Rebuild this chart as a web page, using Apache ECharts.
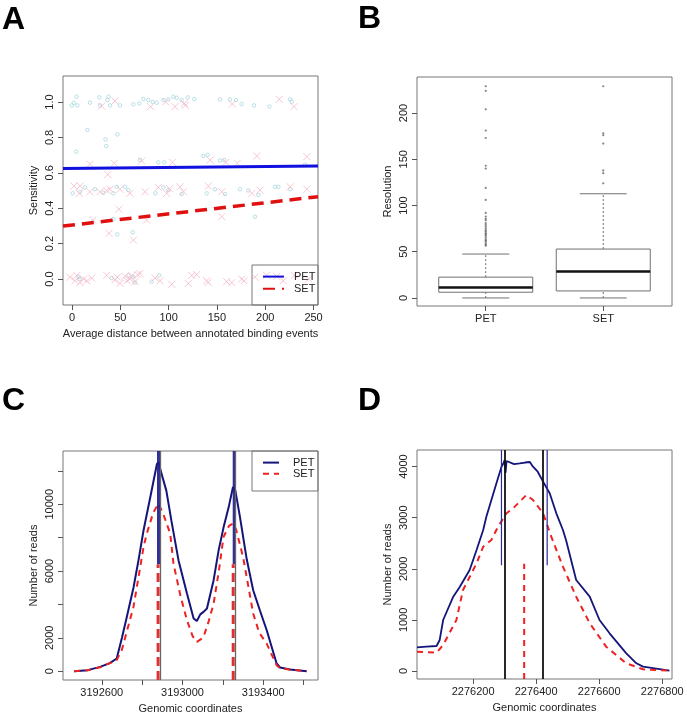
<!DOCTYPE html>
<html><head><meta charset="utf-8">
<script src="https://cdn.jsdelivr.net/npm/echarts@6/dist/echarts.min.js"></script>
<style>html,body{margin:0;padding:0;background:#fff}#c{width:687px;height:717px}</style>
</head><body><div id="c"></div>
<script>
// ---------- Panel A data ----------
const aPetPoints = [
 [-0.3,0.981],[1.9,0.996],[4.6,1.03],[5.5,0.981],[18.6,0.996],[28.3,1.026],[29.0,0.981],[36.6,1.011],[37.7,1.03],[39.3,0.981],[49.7,0.981],[63.5,0.987],[69.7,0.992],[73.9,1.017],[79.0,1.011],[83.5,1.0],[87.7,0.996],[94.6,1.011],[99.8,1.015],[104.9,1.03],[108.4,1.024],[113.5,1.011],[119.7,1.026],[126.6,1.017],[153.2,1.015],[163.5,1.015],[169.8,1.011],[175.6,0.989],[188.4,0.981],[204.3,0.974],[225.7,1.015],[227.4,1.002],
 [16.0,0.842],[34.7,0.789],[35.4,0.751],[47.1,0.817],[4.4,0.719],
 [70.4,0.672],[89.4,0.659],[95.6,0.659],[135.9,0.695],[140.5,0.701],[157.7,0.672],[241.2,0.646],[153.2,0.67],
 [0.7,0.484],[8.3,0.493],[13.5,0.518],[23.8,0.507],[32.5,0.488],[42.8,0.484],[46.3,0.521],[54.9,0.521],[58.3,0.502],[86.3,0.484],[94.6,0.518],[99.8,0.502],[113.5,0.48],[139.4,0.484],[148.0,0.507],[158.4,0.48],[173.9,0.507],[182.5,0.5],[192.8,0.475],[210.1,0.521],[213.6,0.521],[225.7,0.507],
 [42.8,0.339],[46.9,0.252],[62.8,0.264],[189.4,0.352],
 [6.5,0.013],[8.0,0.0],[41.1,0.005],[58.3,0.02],[65.2,-0.02],[82.5,-0.015],[90.4,0.02],[63.5,0.01]
];
const aSetPoints = [
 [30.7,0.977],[44.5,1.006],[81.4,0.974],[97.0,1.0],[106.6,0.974],[116.3,0.992],[117.3,0.981],[165.9,0.989],[214.5,1.015],[229.7,0.974],
 [18.6,0.648],[37.0,0.59],[43.8,0.654],[72.1,0.667],[103.9,0.659],[142.9,0.672],[159.4,0.659],[171.1,0.654],[191.2,0.695],[243.0,0.691],
 [2.1,0.525],[7.6,0.484],[8.3,0.525],[18.6,0.493],[29.0,0.493],[36.0,0.5],[39.3,0.507],[49.7,0.507],[60.0,0.484],[75.6,0.493],[89.4,0.518],[98.0,0.484],[101.0,0.51],[111.8,0.521],[115.3,0.493],[141.2,0.525],[155.0,0.493],[186.1,0.484],[194.7,0.502],[225.8,0.521],[243.1,0.507],
 [48.6,0.394],[38.3,0.258],[63.5,0.22],[155.0,0.352],[21.4,0.333],[77.3,0.333],
 [-2.1,0.01],[3.1,-0.01],[5.0,0.02],[8.3,-0.02],[12.0,0.0],[15.2,-0.01],[20.4,0.005],[36.0,0.02],[44.5,-0.005],[47.0,0.01],[49.7,-0.025],[54.9,0.015],[57.0,-0.01],[60.0,0.0],[62.0,0.02],[65.2,-0.015],[68.0,0.025],[70.4,0.03],[85.9,0.005],[91.1,-0.01],[103.2,-0.03],[120.4,-0.025],[123.9,0.02],[129.0,0.025],[139.4,-0.01],[141.0,-0.02],[160.1,-0.015],[165.3,-0.02],[175.6,0.0],[178.0,-0.01],[189.4,0.01],[201.5,0.02],[211.8,0.015],[218.7,-0.01],[230.0,0.02],[245.0,0.0]
];
const aFitX = [-9.3, 254.6];
const aPetFitY = [0.625, 0.638];
const aSetFitY = [0.299, 0.465];
const aXTicks = [0, 50, 100, 150, 200, 250];
const aYTicks = [0, 0.2, 0.4, 0.6, 0.8, 1.0];

// ---------- Panel B data ----------
const bCategories = ['PET', 'SET'];
const petBox = [0, 6.2, 11.2, 22.5, 47.5];      // min, Q1, median, Q3, upper whisker
const setBox = [0, 7.6, 28.6, 52.9, 112.7];
const petOutliers = [229, 224, 204, 181, 173, 143, 140, 119, 106, 92, 88, 85.5, 84, 81, 79, 77, 75, 73, 72, 70, 69.5, 68, 67, 65, 63, 62, 61, 59, 57.5, 56.5];
const setOutliers = [229, 178, 176, 167, 138, 135, 124];
const bYTicks = [0, 50, 100, 150, 200];

// ---------- Panel C data ----------
const cPet = [[3192463,0],[3192530,60],[3192592,257],[3192640,480],[3192674,760],[3192700,2000],[3192724,3250],[3192757,5000],[3192782,6650],[3192807,8440],[3192840,10400],[3192873,12400],[3192881,12530],[3192890,12100],[3192920,10800],[3192945,9000],[3192980,6650],[3193022,4650],[3193055,3150],[3193071,3000],[3193088,3400],[3193104,3550],[3193121,3750],[3193154,5450],[3193179,7250],[3193203,8600],[3193230,9900],[3193250,11040],[3193262,10800],[3193270,10740],[3193285,9200],[3193318,6700],[3193350,4850],[3193383,3650],[3193417,2450],[3193466,460],[3193483,220],[3193533,100],[3193615,0]];
const cSet = [[3192463,0],[3192530,50],[3192592,230],[3192674,660],[3192700,1300],[3192757,3850],[3192790,6200],[3192807,7440],[3192823,8240],[3192855,9500],[3192881,10040],[3192905,9400],[3192939,8240],[3192955,6450],[3192990,4500],[3193022,3050],[3193050,2100],[3193071,1750],[3193090,1900],[3193104,2050],[3193130,3000],[3193154,4050],[3193180,6000],[3193203,8040],[3193230,8700],[3193250,8840],[3193265,8500],[3193300,6840],[3193350,3450],[3193380,2300],[3193417,1650],[3193445,900],[3193466,360],[3193483,180],[3193533,90],[3193615,0]];
const cPetSites = [3192881, 3193256];
const cSetSites = [3192879, 3193251];
const cTrueSites = [3192890, 3193263];
const cSiteCut = 6400;
const cXTicks = [3192600, 3192800, 3193000, 3193200, 3193400, 3193600];
const cXLabels = [3192600, 3193000, 3193400];
const cYTicks = [0, 2000, 4000, 6000, 8000, 10000, 12000];
const cYLabels = [0, 2000, 6000, 10000];

// ---------- Panel D data ----------
const dPet = [[2276022,463],[2276052,476],[2276084,489],[2276094,607],[2276105,998],[2276137,1454],[2276158,1650],[2276189,1977],[2276211,2368],[2276232,2759],[2276242,3020],[2276274,3673],[2276290,3998],[2276296,4060],[2276300,4129],[2276303,3880],[2276306,4110],[2276311,4090],[2276330,4050],[2276348,4065],[2276365,4080],[2276380,4090],[2276390,3998],[2276405,3900],[2276422,3705],[2276443,3478],[2276464,3086],[2276485,2760],[2276495,2560],[2276527,1781],[2276570,1454],[2276601,998],[2276633,737],[2276686,346],[2276718,150],[2276739,85],[2276823,8]];
const dSet = [[2276022,378],[2276084,359],[2276105,509],[2276147,998],[2276168,1585],[2276211,2107],[2276232,2433],[2276258,2564],[2276279,2824],[2276306,3086],[2276327,3184],[2276369,3444],[2276390,3346],[2276422,3086],[2276448,2628],[2276485,2041],[2276527,1454],[2276570,933],[2276622,476],[2276686,150],[2276739,33],[2276823,8]];
const dPetSites = [2276290, 2276435];
const dSetSites = [2276362];
const dTrueSites = [2276301, 2276422];
const dPetCut = 2070;
const dSetCut = 2100;
const dXTicks = [2276200, 2276400, 2276600, 2276800];
const dYTicks = [0, 1000, 2000, 3000, 4000];

// ---------- ranges ----------
const aX = [-9.3, 254.6], aY = [-0.147, 1.147];
const bX = [0.415, 2.585], bY = [-8.7, 239];
const cX = [3192408, 3193671], cY = [-530, 13190];
const dX = [2276022, 2276831], dY = [-157, 4325];

const FONT = "'Liberation Sans', Arial, Helvetica, sans-serif";
const TXT = '#222', BOX = '#777', TICK = '#555';

function xAx(gi, range, ticks, labels, name, fmt) {
  return {
    type: 'value', gridIndex: gi, min: range[0], max: range[1], position: 'bottom',
    axisLine: {show: false, onZero: false}, splitLine: {show: false},
    axisTick: {show: true, customValues: ticks, length: 5, lineStyle: {color: TICK, width: 1}},
    axisLabel: {customValues: labels, margin: 7, fontSize: 11, color: TXT, fontFamily: FONT,
      formatter: fmt || (v => String(v))},
    name: name, nameLocation: 'middle', nameGap: 23,
    nameTextStyle: {fontSize: 11, color: TXT, fontFamily: FONT}
  };
}
function yAx(gi, range, ticks, labels, name, fmt) {
  return {
    type: 'value', gridIndex: gi, min: range[0], max: range[1], position: 'left',
    axisLine: {show: false, onZero: false}, splitLine: {show: false},
    axisTick: {show: true, customValues: ticks, length: 5, lineStyle: {color: TICK, width: 1}},
    axisLabel: {customValues: labels, margin: 8, rotate: 90, fontSize: 11, color: TXT, fontFamily: FONT,
      formatter: fmt || (v => String(v))},
    name: name, nameLocation: 'middle', nameGap: 24,
    nameTextStyle: {fontSize: 11, color: TXT, fontFamily: FONT}
  };
}

const gridStyle = {show: true, borderColor: BOX, borderWidth: 1, backgroundColor: 'transparent'};

const series = [];
// Panel A
series.push({type: 'scatter', name: 'PET pts', xAxisIndex: 0, yAxisIndex: 0, symbol: 'circle', symbolSize: 3.5,
  itemStyle: {color: 'transparent', borderColor: '#9fd2de', borderWidth: 0.9}, data: aPetPoints, silent: true});
series.push({type: 'scatter', name: 'SET pts', xAxisIndex: 0, yAxisIndex: 0, symbol: 'path://M0,0L10,10M10,0L0,10', symbolSize: 7,
  itemStyle: {color: 'transparent', borderColor: '#f5b8c7', borderWidth: 1}, data: aSetPoints, silent: true});
series.push({type: 'line', name: 'PET', xAxisIndex: 0, yAxisIndex: 0, symbol: 'none',
  lineStyle: {color: '#1010e0', width: 3}, itemStyle: {color: '#1010e0'},
  data: aFitX.map((x, i) => [x, aPetFitY[i]])});
series.push({type: 'line', name: 'SET', xAxisIndex: 0, yAxisIndex: 0, symbol: 'none',
  lineStyle: {color: '#e01010', width: 3.5, type: [12, 7]}, itemStyle: {color: '#e01010'},
  data: aFitX.map((x, i) => [x, aSetFitY[i]])});

// Panel B
const boxRows = [[1].concat(petBox), [2].concat(setBox)];
series.push({type: 'custom', name: 'box', xAxisIndex: 1, yAxisIndex: 1, silent: true,
  data: boxRows,
  renderItem: function (params, api) {
    const x = api.value(0), mn = api.value(1), q1 = api.value(2), md = api.value(3), q3 = api.value(4), mx = api.value(5);
    const p = (xx, yy) => api.coord([xx, yy]);
    const grey = '#707070';
    const seg = (a, b, style) => ({type: 'line', shape: {x1: a[0], y1: a[1], x2: b[0], y2: b[1]}, style: style});
    const tl = p(x - 0.4, q3), br = p(x + 0.4, q1);
    return {type: 'group', children: [
      seg(p(x, mn), p(x, q1), {stroke: grey, lineWidth: 1, lineDash: [2, 2]}),
      seg(p(x, q3), p(x, mx), {stroke: grey, lineWidth: 1, lineDash: [2, 2]}),
      seg(p(x - 0.2, mn), p(x + 0.2, mn), {stroke: grey, lineWidth: 1}),
      seg(p(x - 0.2, mx), p(x + 0.2, mx), {stroke: grey, lineWidth: 1}),
      {type: 'rect', shape: {x: tl[0], y: tl[1], width: br[0] - tl[0], height: br[1] - tl[1]},
        style: {fill: 'transparent', stroke: grey, lineWidth: 1}},
      seg(p(x - 0.4, md), p(x + 0.4, md), {stroke: '#111', lineWidth: 2.5})
    ]};
  }
});
series.push({type: 'scatter', name: 'out1', xAxisIndex: 1, yAxisIndex: 1, symbol: 'circle', symbolSize: 2.2,
  itemStyle: {color: '#666'}, data: petOutliers.map(v => [1, v]), silent: true});
series.push({type: 'scatter', name: 'out2', xAxisIndex: 1, yAxisIndex: 1, symbol: 'circle', symbolSize: 2.2,
  itemStyle: {color: '#666'}, data: setOutliers.map(v => [2, v]), silent: true});

// Panel C
series.push({type: 'line', name: 'PET·C', xAxisIndex: 2, yAxisIndex: 2, symbol: 'none',
  lineStyle: {color: '#14147a', width: 2}, itemStyle: {color: '#14147a'}, data: cPet,
  markLine: {silent: true, symbol: 'none', label: {show: false},
    lineStyle: {color: '#666', width: 1.3, type: 'solid'}, data: cTrueSites.map(v => ({xAxis: v}))}});
series.push({type: 'line', name: 'SET·C', xAxisIndex: 2, yAxisIndex: 2, symbol: 'none',
  lineStyle: {color: '#ee2222', width: 2, type: [6, 5]}, itemStyle: {color: '#ee2222'}, data: cSet});
cPetSites.forEach(s => series.push({type: 'line', name: 'cpsite', xAxisIndex: 2, yAxisIndex: 2, symbol: 'none', silent: true,
  lineStyle: {color: '#1a1a8a', width: 3, opacity: 0.9}, data: [[s, cY[1]], [s, cSiteCut]]}));
cSetSites.forEach(s => series.push({type: 'line', name: 'cssite', xAxisIndex: 2, yAxisIndex: 2, symbol: 'none', silent: true,
  lineStyle: {color: '#e03030', width: 3, type: [9, 5]}, data: [[s, cY[0]], [s, cSiteCut]]}));

// Panel D
series.push({type: 'line', name: 'PET·D', xAxisIndex: 3, yAxisIndex: 3, symbol: 'none',
  lineStyle: {color: '#14147a', width: 1.8}, data: dPet,
  markLine: {silent: true, symbol: 'none', label: {show: false},
    lineStyle: {color: '#111', width: 1.8, type: 'solid'}, data: dTrueSites.map(v => ({xAxis: v}))}});
series.push({type: 'line', name: 'SET·D', xAxisIndex: 3, yAxisIndex: 3, symbol: 'none',
  lineStyle: {color: '#ee2222', width: 2, type: [6, 5]}, data: dSet});
dPetSites.forEach(s => series.push({type: 'line', name: 'dpsite', xAxisIndex: 3, yAxisIndex: 3, symbol: 'none', silent: true,
  lineStyle: {color: '#2a2a9a', width: 1.2}, data: [[s, dY[1]], [s, dPetCut]]}));
dSetSites.forEach(s => series.push({type: 'line', name: 'dssite', xAxisIndex: 3, yAxisIndex: 3, symbol: 'none', silent: true,
  lineStyle: {color: '#ee2222', width: 2, type: [6, 5]}, data: [[s, dY[0]], [s, dSetCut]]}));

const letter = (t, x, y) => ({type: 'text', x: x, y: y, style: {text: t, font: 'bold 32px ' + FONT, fill: '#000', verticalAlign: 'middle'}});
const hiddenSymbol = {color: 'rgba(0,0,0,0)', borderColor: 'rgba(0,0,0,0)', borderWidth: 0, opacity: 0};

const option = {
  animation: false,
  backgroundColor: '#fff',
  grid: [
    Object.assign({left: 63, top: 76, width: 255, height: 229}, gridStyle),
    Object.assign({left: 417, top: 77, width: 255, height: 229}, gridStyle),
    Object.assign({left: 63, top: 451, width: 255, height: 229}, gridStyle),
    Object.assign({left: 417, top: 450, width: 255, height: 229}, gridStyle)
  ],
  xAxis: [
    xAx(0, aX, aXTicks, aXTicks, 'Average distance between annotated binding events'),
    xAx(1, bX, [1, 2], [1, 2], '', v => bCategories[Math.round(v) - 1]),
    xAx(2, cX, cXTicks, cXLabels, 'Genomic coordinates'),
    xAx(3, dX, dXTicks, dXTicks, 'Genomic coordinates')
  ],
  yAxis: [
    yAx(0, aY, aYTicks, aYTicks, 'Sensitivity', v => v.toFixed(1)),
    yAx(1, bY, bYTicks, bYTicks, 'Resolution'),
    yAx(2, cY, cYTicks, cYLabels, 'Number of reads'),
    yAx(3, dY, dYTicks, dYTicks, 'Number of reads')
  ],
  legend: [
    {data: ['PET', 'SET'], orient: 'vertical', left: 262, top: 271, padding: 0, itemWidth: 21, itemHeight: 14, itemGap: 1,
      itemStyle: hiddenSymbol,
      textStyle: {fontSize: 11, color: TXT, fontFamily: FONT, padding: [0, 0, 0, 5]}, selectedMode: false},
    {data: ['PET·C', 'SET·C'], orient: 'vertical', left: 262, top: 457, padding: 0, itemWidth: 16, itemHeight: 14, itemGap: 0,
      itemStyle: hiddenSymbol,
      formatter: n => n.split('·')[0],
      textStyle: {fontSize: 11, color: TXT, fontFamily: FONT, padding: [0, 0, 0, 9]}, selectedMode: false}
  ],
  graphic: [
    letter('A', 2, 20), letter('B', 358, 19), letter('C', 2, 401), letter('D', 358, 401),
    {type: 'rect', shape: {x: 252, y: 265, width: 66, height: 40}, style: {fill: 'transparent', stroke: BOX, lineWidth: 1}},
    {type: 'rect', shape: {x: 252, y: 451, width: 66, height: 40}, style: {fill: 'transparent', stroke: BOX, lineWidth: 1}}
  ],
  series: series
};
const chart = echarts.init(document.getElementById('c'), null, {renderer: 'canvas'});
chart.setOption(option);
</script></body></html>
